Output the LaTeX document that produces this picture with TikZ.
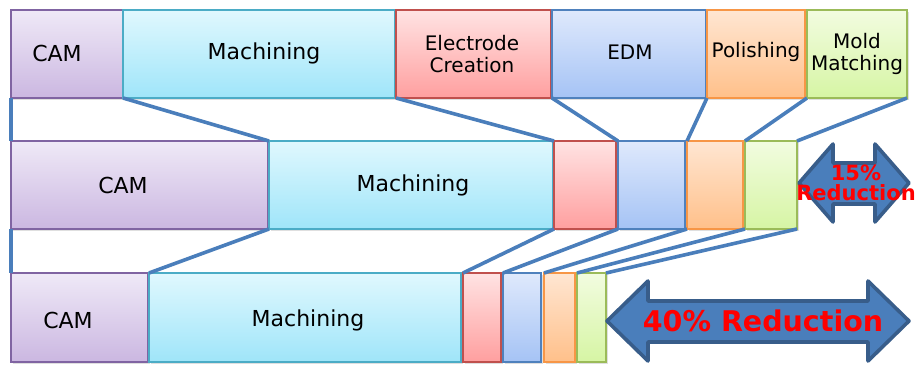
\documentclass[tikz,border=0pt]{standalone}
\usepackage{fontspec}
\setmainfont{DejaVu Sans}
\usepackage{tikz}
\usetikzlibrary{shadows}
\definecolor{camtop}{HTML}{EFE9F7}
\definecolor{cambot}{HTML}{CBB7E1}
\definecolor{camline}{HTML}{8064A2}
\definecolor{machtop}{HTML}{E0F8FE}
\definecolor{machbot}{HTML}{9FE5F9}
\definecolor{machline}{HTML}{4BACC6}
\definecolor{electop}{HTML}{FFE3E3}
\definecolor{elecbot}{HTML}{FF9F9F}
\definecolor{elecline}{HTML}{C0504D}
\definecolor{edmtop}{HTML}{DFE9FC}
\definecolor{edmbot}{HTML}{A5C3F5}
\definecolor{edmline}{HTML}{4F81BD}
\definecolor{poltop}{HTML}{FFE6D2}
\definecolor{polbot}{HTML}{FFC08A}
\definecolor{polline}{HTML}{F79646}
\definecolor{moldtop}{HTML}{F2FCE0}
\definecolor{moldbot}{HTML}{D6F5A4}
\definecolor{moldline}{HTML}{9BBB59}
\definecolor{linkblue}{HTML}{4A7EBB}
\definecolor{arrowedge}{HTML}{385D8A}

\begin{document}
\begin{tikzpicture}[x=1pt,y=-1pt,
    box/.style={anchor=north west,inner sep=0,outer sep=0,line width=1.8pt,
      drop shadow={opacity=0.25,shadow xshift=1.5pt,shadow yshift=-2pt}},
    cambox/.style={box,draw=camline,top color=camtop,bottom color=cambot},
    machbox/.style={box,draw=machline,top color=machtop,bottom color=machbot},
    elecbox/.style={box,draw=elecline,top color=electop,bottom color=elecbot},
    edmbox/.style={box,draw=edmline,top color=edmtop,bottom color=edmbot},
    polbox/.style={box,draw=polline,top color=poltop,bottom color=polbot},
    moldbox/.style={box,draw=moldline,top color=moldtop,bottom color=moldbot},
    big/.style={font=\fontsize{22}{24}\selectfont},
    small/.style={font=\fontsize{20}{22}\selectfont,align=center},
    link/.style={draw=linkblue,line width=3.6pt},
    fatarrow/.style={fill=linkblue,draw=arrowedge,line width=3.6pt,line join=round},
    redtext/.style={text=red,align=center}]
   	 \useasboundingbox (0,0) rectangle (924,366);
   	 % row 1
   	 \node[cambox,minimum width=112,minimum height=88] (cam1) at (11,10) {};
   	 \node[machbox,minimum width=272,minimum height=88] (mach1) at (123,10) {};
   	 \node[elecbox,minimum width=155,minimum height=88] (elec1) at (396,10) {};
   	 \node[edmbox,minimum width=154,minimum height=88] (edm1) at (552,10) {};
   	 \node[polbox,minimum width=98,minimum height=88] (pol1) at (707,10) {};
   	 \node[moldbox,minimum width=100,minimum height=88] (mold1) at (807,10) {};
   	 \node[big] (lcam1) at (57,53) {CAM};
   	 \node[big] (lmach1) at (264,53) {Machining};
   	 \node[small] (lelec1) at (472,54) {Electrode\\Creation};
   	 \node[small] (ledm1) at (630,52) {EDM};
   	 \node[small] (lpol1) at (756,52) {Polishing};
   	 \node[small] (lmold1) at (857,54) {Mold\\Matching};
   	 % row 2
   	 \node[cambox,minimum width=257,minimum height=88] (cam2) at (11,141) {};
   	 \node[machbox,minimum width=284,minimum height=88] (mach2) at (269,141) {};
   	 \node[elecbox,minimum width=62,minimum height=88] (elec2) at (554,141) {};
   	 \node[edmbox,minimum width=67,minimum height=88] (edm2) at (618,141) {};
   	 \node[polbox,minimum width=56,minimum height=88] (pol2) at (687,141) {};
   	 \node[moldbox,minimum width=52,minimum height=88] (mold2) at (745,141) {};
   	 \node[big] (lcam2) at (123,185) {CAM};
   	 \node[big] (lmach2) at (413,185) {Machining};
   	 % row 3
   	 \node[cambox,minimum width=137,minimum height=89] (cam3) at (11,273) {};
   	 \node[machbox,minimum width=312,minimum height=89] (mach3) at (149,273) {};
   	 \node[elecbox,minimum width=38,minimum height=89] (elec3) at (463,273) {};
   	 \node[edmbox,minimum width=38,minimum height=89] (edm3) at (503,273) {};
   	 \node[polbox,minimum width=31,minimum height=89] (pol3) at (544,273) {};
   	 \node[moldbox,minimum width=29,minimum height=89] (mold3) at (577,273) {};
   	 \node[big] (lcam3) at (68,320) {CAM};
   	 \node[big] (lmach3) at (308,320) {Machining};
   	 % links between rows
   	 \draw[link] (cam1.south west) -- (cam2.north west);
   	 \draw[link] (mach1.south west) -- (mach2.north west);
   	 \draw[link] (elec1.south west) -- (elec2.north west);
   	 \draw[link] (edm1.south west) -- (edm2.north west);
   	 \draw[link] (pol1.south west) -- (pol2.north west);
   	 \draw[link] (mold1.south west) -- (mold2.north west);
   	 \draw[link] (mold1.south east) -- (mold2.north east);
   	 \draw[link] (cam2.south west) -- (cam3.north west);
   	 \draw[link] (mach2.south west) -- (mach3.north west);
   	 \draw[link] (elec2.south west) -- (elec3.north west);
   	 \draw[link] (edm2.south west) -- (edm3.north west);
   	 \draw[link] (pol2.south west) -- (pol3.north west);
   	 \draw[link] (mold2.south west) -- (mold3.north west);
   	 \draw[link] (mold2.south east) -- (mold3.north east);
   	 % reduction arrows
   	 \draw[fatarrow] (799,183) -- (833,144) -- (833,163) -- (875,163) -- (875,144) -- (909,183)
   	   -- (875,222) -- (875,204) -- (833,204) -- (833,222) -- cycle;
   	 \node[redtext,font=\fontsize{21}{20}\selectfont\bfseries] (red15) at (856,183) {15\%\\Reduction};
   	 \draw[fatarrow] (607,321) -- (648,281) -- (648,301) -- (868,301) -- (868,281) -- (909,321)
   	   -- (868,361) -- (868,342) -- (648,342) -- (648,361) -- cycle;
   	 \node[redtext,font=\fontsize{28.5}{30}\selectfont\bfseries] (red40) at (763,321) {40\% Reduction};
    \end{tikzpicture}
\end{document}
